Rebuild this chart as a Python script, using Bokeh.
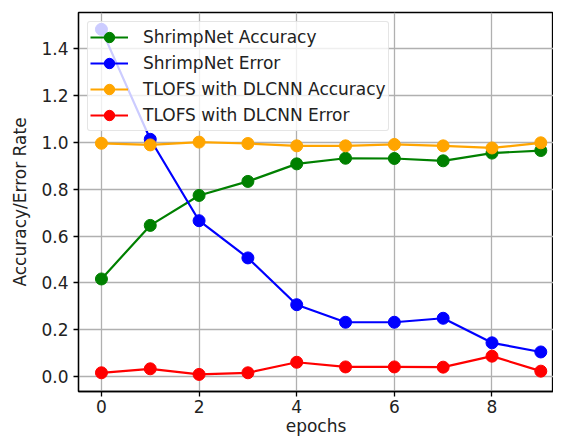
from bokeh.plotting import figure
from bokeh.embed import file_html
from bokeh.resources import INLINE
from bokeh.models import FixedTicker, PrintfTickFormatter, Range1d

epochs = list(range(10))
shrimp_acc = [0.417, 0.646, 0.774, 0.834, 0.909, 0.933, 0.932, 0.922, 0.955, 0.966]
shrimp_err = [1.484, 1.014, 0.666, 0.507, 0.307, 0.232, 0.232, 0.249, 0.144, 0.105]
tlofs_acc = [0.997, 0.990, 1.002, 0.996, 0.986, 0.986, 0.992, 0.986, 0.977, 0.999]
tlofs_err = [0.016, 0.033, 0.009, 0.016, 0.061, 0.041, 0.041, 0.040, 0.087, 0.023]

series = [
    ("ShrimpNet Accuracy", shrimp_acc, "green"),
    ("ShrimpNet Error", shrimp_err, "blue"),
    ("TLOFS with DLCNN Accuracy", tlofs_acc, "orange"),
    ("TLOFS with DLCNN Error", tlofs_err, "red"),
]
x_ticks = [0, 2, 4, 6, 8]
y_ticks = [0.0, 0.2, 0.4, 0.6, 0.8, 1.0, 1.2, 1.4]

FONT = "DejaVu Sans"

p = figure(width=553, height=438, output_backend="svg", toolbar_location=None,
           x_range=Range1d(-0.47, 9.26), y_range=Range1d(-0.064, 1.556),
           min_border_left=78, min_border_top=12, min_border_right=0, min_border_bottom=0)

for label, vals, color in series:
    p.line(epochs, vals, line_color=color, line_width=2.2, legend_label=label)
    p.scatter(epochs, vals, size=12, fill_color=color, line_color=color, legend_label=label)

p.xaxis.ticker = FixedTicker(ticks=x_ticks)
p.yaxis.ticker = FixedTicker(ticks=y_ticks)
p.yaxis.formatter = PrintfTickFormatter(format="%.1f")
p.xaxis.axis_label = "epochs"
p.yaxis.axis_label = "Accuracy/Error Rate"

for ax in (p.xaxis, p.yaxis):
    ax.axis_label_text_font = FONT
    ax.axis_label_text_font_size = "17px"
    ax.axis_label_text_font_style = "normal"
    ax.axis_label_text_color = "#222222"
    ax.major_label_text_font = FONT
    ax.major_label_text_font_size = "17px"
    ax.major_label_text_color = "#222222"
    ax.major_tick_in = 0
    ax.major_tick_out = 5
    ax.minor_tick_in = 0
    ax.minor_tick_out = 0
    ax.axis_line_color = "black"
    ax.axis_line_width = 1.3
    ax.major_tick_line_color = "black"
    ax.major_tick_line_width = 1.3

p.xaxis.major_label_standoff = 3
p.xaxis.axis_label_standoff = 0
p.yaxis.major_label_standoff = 5
p.yaxis.axis_label_standoff = 8

p.grid.grid_line_color = "#b0b0b0"
p.grid.grid_line_width = 1.3
p.outline_line_color = "black"
p.outline_line_width = 1.3

lg = p.legend[0]
lg.location = "top_left"
lg.margin = 9
lg.padding = 2
lg.spacing = 0
lg.label_height = 26
lg.glyph_height = 26
lg.glyph_width = 38
lg.label_standoff = 15
lg.label_text_font = FONT
lg.label_text_font_size = "17px"
lg.label_text_color = "#222222"
lg.background_fill_alpha = 0.8
lg.border_line_color = "#cccccc"
lg.border_line_width = 1
lg.border_radius = 3

open("out.html", "w").write(file_html(p, INLINE))
